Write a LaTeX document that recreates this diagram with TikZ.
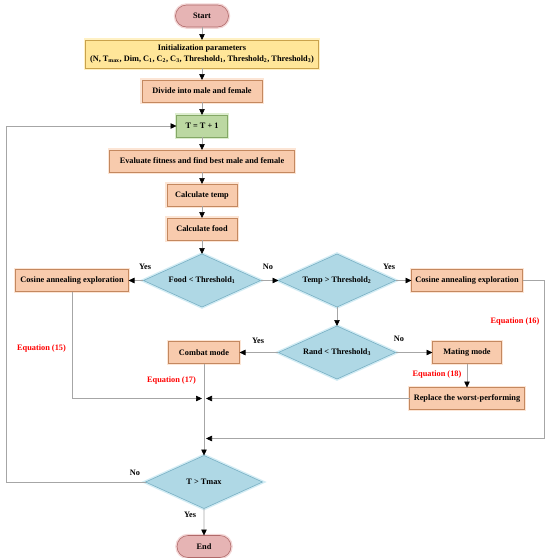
\documentclass[tikz,border=0pt]{standalone}
\usepackage{fontspec}
\setmainfont{Liberation Serif}
\usepackage{xcolor}
\usetikzlibrary{shapes,arrows.meta}
\usetikzlibrary{positioning}

\definecolor{termfill}{HTML}{E6B4B4}
\definecolor{termdraw}{HTML}{B06A6A}
\definecolor{termglow}{HTML}{F3D6D6}
\definecolor{initfill}{HTML}{FFE699}
\definecolor{initdraw}{HTML}{C9A24C}
\definecolor{initglow}{HTML}{FFF1C4}
\definecolor{procfill}{HTML}{F8CBAD}
\definecolor{procdraw}{HTML}{C4885F}
\definecolor{procglow}{HTML}{FCE5D5}
\definecolor{stepfill}{HTML}{BCD8A2}
\definecolor{stepdraw}{HTML}{84A866}
\definecolor{stepglow}{HTML}{DDEDCF}
\definecolor{decfill}{HTML}{AFD8E5}
\definecolor{decdraw}{HTML}{78B0C4}
\definecolor{decglow}{HTML}{D3ECF4}
\definecolor{linegray}{HTML}{A6A6A6}
\definecolor{eqred}{HTML}{FF0000}

\begin{document}
\begin{tikzpicture}[x=1pt,y=1pt]
\tikzset{
base/.style={font=\fontsize{8.3}{11}\selectfont\bfseries, inner sep=0pt, outer sep=0pt, line width=0.6pt},
term/.style={base, rounded rectangle, fill=termfill, draw=termdraw,
    preaction={draw=termglow, line width=3.5pt}, minimum height=22pt},
initbox/.style={base, rectangle, fill=initfill, draw=initdraw, align=center,
    preaction={draw=initglow, line width=3.5pt}, minimum height=28pt},
process/.style={base, rectangle, fill=procfill, draw=procdraw,
    preaction={draw=procglow, line width=3.5pt}, minimum height=22pt},
counter/.style={base, rectangle, fill=stepfill, draw=stepdraw,
    preaction={draw=stepglow, line width=3.5pt}, minimum height=22pt},
decision/.style={base, diamond, aspect=2.2, minimum width=117pt, minimum height=53pt,
    fill=decfill, draw=decdraw, preaction={draw=decglow, line width=3.5pt}},
flow/.style={draw=linegray, line width=0.6pt,
    -{Triangle[color=black, length=6pt, width=5.5pt]}},
branch/.style={font=\fontsize{8.3}{10}\selectfont\bfseries, inner sep=0pt},
eqn/.style={font=\fontsize{8.3}{10}\selectfont\bfseries, text=eqred, inner sep=0pt}
}
\useasboundingbox (0,0) rectangle (550,-558);

% main column
\node[term, minimum width=53pt] (start) at (202,-16) {Start};
\node[initbox, below=13pt of start, minimum width=233pt] (init)
    {Initialization parameters\\(N, T\textsubscript{max}, Dim, C\textsubscript{1}, C\textsubscript{2}, C\textsubscript{3}, Threshold\textsubscript{1}, Threshold\textsubscript{2}, Threshold\textsubscript{3})};
\node[process, below=12pt of init, minimum width=120pt] (divide) {Divide into male and female};
\node[counter, below=13pt of divide, minimum width=51pt] (tnext) {T = T + 1};
\node[process, below=13pt of tnext, minimum width=185pt] (evaluate) {Evaluate fitness and find best male and female};
\node[process, below=12pt of evaluate, minimum width=70pt] (calctemp) {Calculate temp};
\node[process, below=12pt of calctemp, minimum width=70pt] (calcfood) {Calculate food};
\node[decision, below=14pt of calcfood] (fooddec) {Food < Threshold\textsubscript{1}};

% branches
\node[process, left=15pt of fooddec, minimum width=113pt] (cosl) {Cosine annealing exploration};
\node[decision, right=18pt of fooddec] (tempdec) {Temp > Threshold\textsubscript{2}};
\node[process, right=16pt of tempdec, minimum width=111pt] (cosr) {Cosine annealing exploration};
\node[decision, below=19pt of tempdec] (randdec) {Rand < Threshold\textsubscript{3}};
\node[process, left=39pt of randdec, minimum width=71pt] (combat) {Combat mode};
\node[process, right=37pt of randdec, minimum width=69pt] (mating) {Mating mode};
\node[process, below=24pt of mating, minimum width=115pt] (replace) {Replace the worst-performing};

\coordinate (merge1) at (combat.south |- replace.west);
\coordinate[below=40pt of merge1] (merge2);
\node[decision, below=17pt of merge2] (tmaxdec) {T > Tmax};
\node[term, below=27pt of tmaxdec, minimum width=54pt] (stop) {End};
\coordinate[right=22pt of cosr] (rturn);
\coordinate[left=139pt of tmaxdec.west] (lturn);

% connectors
\draw[flow] (start) -- (init);
\draw[flow] (init) -- (divide);
\draw[flow] (divide) -- (tnext);
\draw[flow] (tnext) -- (evaluate);
\draw[flow] (evaluate) -- (calctemp);
\draw[flow] (calctemp) -- (calcfood);
\draw[flow] (calcfood) -- (fooddec);
\draw[flow] (fooddec) -- (cosl);
\draw[flow] (fooddec) -- (tempdec);
\draw[flow] (tempdec) -- (cosr);
\draw[flow] (tempdec) -- (randdec);
\draw[flow] (randdec) -- (combat);
\draw[flow] (randdec) -- (mating);
\draw[flow] (mating) -- (replace);
\draw[flow, shorten >=2pt] (cosl.south) |- (merge1);
\draw[flow, shorten >=2pt] (replace.west) -- (merge1);
\draw[flow] (combat) -- (tmaxdec);
\draw[flow, shorten >=2pt] (cosr.east) -- (rturn) |- (merge2);
\draw[flow] (tmaxdec.west) -- (lturn) |- (tnext.west);
\draw[flow] (tmaxdec) -- (stop);

% branch labels
\node[branch] (y1) at (145,-267) {Yes};
\node[branch] (n1) at (268,-267) {No};
\node[branch] (y2) at (389,-267) {Yes};
\node[branch] (y3) at (258,-341) {Yes};
\node[branch] (n3) at (399,-339) {No};
\node[branch] (n4) at (135,-473) {No};
\node[branch] (y4) at (190,-515) {Yes};

% equation labels
\node[eqn] (eq15) at (41.5,-348) {Equation (15)};
\node[eqn] (eq16) at (515,-321) {Equation (16)};
\node[eqn] (eq17) at (171.5,-380) {Equation (17)};
\node[eqn] (eq18) at (437,-374) {Equation (18)};
\end{tikzpicture}
\end{document}
